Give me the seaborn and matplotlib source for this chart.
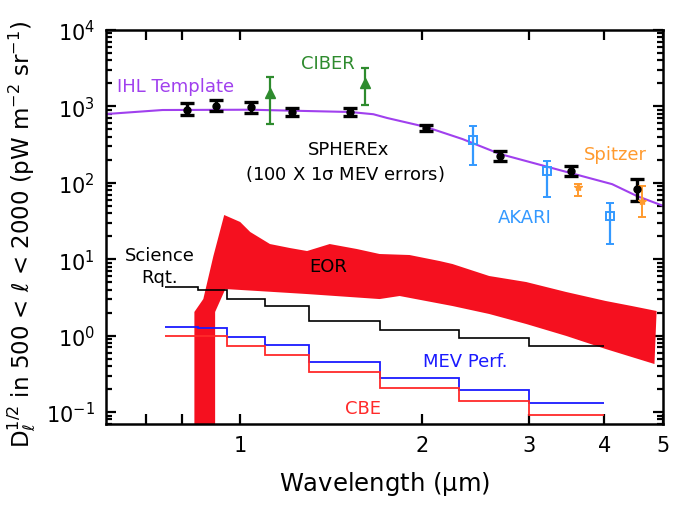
import matplotlib
matplotlib.use("Agg")
import matplotlib.pyplot as plt
import seaborn as sns
import pandas as pd
import numpy as np
from matplotlib.ticker import FixedLocator, NullFormatter, LogLocator, LogFormatterMathtext, FixedFormatter

# ---------------- data ----------------
ihl_wl = [0.601, 0.744, 1.04, 1.25, 1.52, 1.66, 1.75, 2.03, 2.33, 2.69, 3.52, 4.12, 4.53, 5.0]
ihl_val = [795, 897, 905, 875, 845, 790, 705, 537, 374, 238, 134, 96, 67, 50]

spherex_wl = [0.818, 0.913, 1.043, 1.218, 1.52, 2.03, 2.69, 3.52, 4.53]
spherex_val = [897, 1012, 982, 845, 845, 521, 224, 143, 83]
spherex_lo = [126, 141, 162, 96, 96, 45, 31, 20, 25]
spherex_hi = [212, 201, 160, 108, 108, 50, 37, 23, 29]

ciber_wl = [1.12, 1.61]
ciber_val = [1497, 2024]
ciber_lo = [908, 981]
ciber_hi = [930, 1159]

akari_wl = [2.43, 3.22, 4.08]
akari_val = [363, 143, 36.8]
akari_lo = [192, 78, 21]
akari_hi = [191, 50, 17.6]

spitzer_wl = [3.62, 4.61]
spitzer_val = [88, 57.8]
spitzer_lo = [21, 22.1]
spitzer_hi = [8.5, 33]

step_edges = [0.75, 0.85, 0.95, 1.1, 1.3, 1.7, 2.3, 3.0, 4.0]
science_rqt = [4.33, 3.95, 3.01, 2.44, 1.55, 1.18, 0.93, 0.73]
mev_perf = [1.30, 1.26, 0.96, 0.753, 0.451, 0.279, 0.194, 0.131]
cbe = [0.99, 0.99, 0.73, 0.557, 0.334, 0.206, 0.139, 0.091]

eor_upper_wl = [0.840, 0.840, 0.869, 0.903, 0.941, 1.0, 1.039, 1.12, 1.209, 1.29, 1.406,
                1.559, 1.70, 1.905, 2.136, 2.244, 2.58, 2.97, 3.46, 4.02, 4.44, 4.88]
eor_upper_val = [0.01, 2.04, 3.01, 11.0, 37.9, 30.7, 22.7, 15.8, 14.0, 12.8, 15.8,
                 13.6, 11.7, 11.35, 9.47, 8.65, 6.03, 5.03, 3.72, 2.84, 2.44, 2.10]
eor_lower_wl = [4.84, 4.02, 3.46, 2.97, 2.58, 2.244, 1.835, 1.70, 1.29, 1.067, 0.945, 0.909, 0.909]
eor_lower_val = [0.425, 0.668, 0.99, 1.42, 1.92, 2.44, 3.30, 3.01, 3.50, 3.84, 4.07, 2.04, 0.01]

x_major = [1, 2, 3, 4, 5]
x_major_labels = ["1", "2", "3", "4", "5"]
x_minor = [0.7, 0.8]

# ---------------- style ----------------
sns.set_style("ticks")
plt.rcParams.update({
    "font.family": ["DejaVu Sans"],
    "mathtext.fontset": "dejavusans",
    "mathtext.default": "regular",
    "axes.linewidth": 1.8,
    "axes.edgecolor": "black",
    "axes.labelcolor": "black",
    "text.color": "black",
    "xtick.color": "black",
    "ytick.color": "black",
    "xtick.direction": "in",
    "ytick.direction": "in",
})

W, H = 680, 510
fig = plt.figure(figsize=(6.8, 5.1), dpi=100)
ax = fig.add_axes([106 / W, 1 - 425 / H, (663 - 106) / W, (425 - 31) / H])
ax.set_xscale("log")
ax.set_yscale("log")

# EOR band
ax.fill(eor_upper_wl + eor_lower_wl, eor_upper_val + eor_lower_val,
        color="#f5101f", lw=0, zorder=1)

# IHL template
sns.lineplot(x=ihl_wl, y=ihl_val, ax=ax, color="#a040ee", lw=1.5, sort=False, zorder=2)

# step lines
ax.stairs(science_rqt, step_edges, color="black", lw=1.2, baseline=None, zorder=3)
ax.stairs(mev_perf, step_edges, color="#1a1aff", lw=1.3, baseline=None, zorder=3)
ax.stairs(cbe, step_edges, color="#ff2a2a", lw=1.3, baseline=None, zorder=3)

# data points
ax.errorbar(spherex_wl, spherex_val, yerr=[spherex_lo, spherex_hi], fmt="o", color="black",
            ms=5, elinewidth=2.4, capsize=5, capthick=2.4, zorder=5)
ax.errorbar(ciber_wl, ciber_val, yerr=[ciber_lo, ciber_hi], fmt="^", color="#2e8b2e",
            ms=7, elinewidth=1.6, capsize=3, capthick=1.6, zorder=5)
ax.errorbar(akari_wl, akari_val, yerr=[akari_lo, akari_hi], fmt="s", color="#3399ff",
            mfc="none", mec="#3399ff", mew=1.4, ms=6, elinewidth=1.6, capsize=3,
            capthick=1.6, zorder=5)
ax.errorbar(spitzer_wl, spitzer_val, yerr=[spitzer_lo, spitzer_hi], fmt="*", color="#ff9a2e",
            ms=6, elinewidth=1.4, capsize=3, capthick=1.4, zorder=5)

# axes
ax.set_xlim(0.6, 5.0)
ax.set_ylim(0.0697, 1e4)
ax.xaxis.set_major_locator(FixedLocator(x_major))
ax.xaxis.set_major_formatter(FixedFormatter(x_major_labels))
ax.xaxis.set_minor_locator(FixedLocator(x_minor))
ax.xaxis.set_minor_formatter(NullFormatter())
ax.yaxis.set_major_locator(LogLocator(base=10, numticks=20))
ax.yaxis.set_major_formatter(LogFormatterMathtext())
ax.yaxis.set_minor_locator(LogLocator(base=10, subs=np.arange(2, 10), numticks=20))
ax.yaxis.set_minor_formatter(NullFormatter())
ax.tick_params(which="both", top=True, right=True, labelsize=15, width=1.6, colors="black")
ax.tick_params(which="major", length=7, pad=8)
ax.tick_params(which="minor", length=4)
ax.tick_params(axis="x", which="minor", length=7)

ax.set_xlabel("Wavelength ($\\mu$m)", fontsize=17.5, labelpad=10, color="black")
fig.text(22 / W, 1 - 234 / H,
         r"$D_\ell^{1/2}$ in 500 < $\ell$ < 2000 (pW m$^{-2}$ sr$^{-1}$)",
         rotation=90, ha="center", va="center", fontsize=16.5, color="black")

def lab(px, py, s, c, size=13):
    fig.text(px / W, 1 - py / H, s, color=c, ha="center", va="center", fontsize=size)

lab(176, 87, "IHL Template", "#a040ee")
lab(328, 64, "CIBER", "#2e8b2e")
lab(349, 150, "SPHEREx", "black")
lab(345, 174, "(100 X 1$\\sigma$ MEV errors)", "black")
lab(615, 155, "Spitzer", "#ff9a2e")
lab(525, 218, "AKARI", "#3399ff")
lab(160, 256, "Science", "black")
lab(160, 278, "Rqt.", "black")
lab(328, 267, "EOR", "black")
lab(465, 362, "MEV Perf.", "#1a1aff")
lab(363, 409, "CBE", "#ff2a2a")

fig.savefig("out.png", dpi=100)
